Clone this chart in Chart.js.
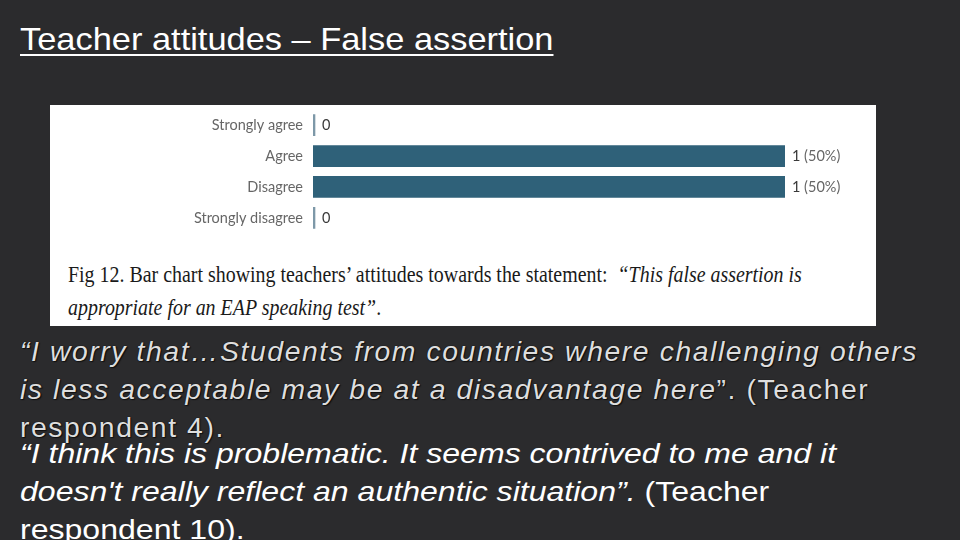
<!DOCTYPE html>
<html>
<head>
<meta charset="utf-8">
<script src="https://cdn.jsdelivr.net/npm/chart.js@4"></script>
<style>
  html, body { margin: 0; padding: 0; }
  body { width: 960px; height: 540px; background: #2b2b2d; position: relative; overflow: hidden;
         font-family: 'Liberation Sans', Arial, sans-serif; }
  #title { position: absolute; left: 20px; top: 23px; color: #fff; font-size: 32px; line-height: 1;
           white-space: nowrap; transform: scaleX(1.075); transform-origin: left top;
           text-decoration: underline; text-decoration-thickness: 2px; text-underline-offset: 4px; }
  #card { position: absolute; left: 50px; top: 105px; width: 826px; height: 221px; background: #fff; }
  #chartBox { position: absolute; left: 0; top: -4px; width: 826px; height: 141px; }
  #caption { position: absolute; left: 18px; top: 153px; width: 1100px; color: #1a1a1a;
             font-family: 'Liberation Serif', 'Times New Roman', serif; font-size: 24px; line-height: 33px;
             transform: scaleX(0.83); transform-origin: left top; white-space: nowrap; }
  .q { position: absolute; left: 20px; white-space: nowrap; transform-origin: left top; }
  #q1 { top: 333px; color: #dedede; font-size: 27px; line-height: 38px; letter-spacing: 1.5px;
        text-shadow: 0 0 1px #000, 1px 1px 1px #111; transform: scaleX(1.05); }
  #q2 { top: 435px; color: #fff; font-size: 28px; line-height: 38px; transform: scaleX(1.145); }
</style>
</head>
<body>
<div id="title">Teacher attitudes – False assertion</div>
<div id="card">
  <div id="chartBox"><canvas id="chart"></canvas></div>
  <div id="caption">Fig 12. Bar chart showing teachers’ attitudes towards the statement: &nbsp;<i>“This false assertion is</i><br><i>appropriate for an EAP speaking test”</i>.</div>
</div>
<div id="q1" class="q"><i>“I worry that…Students from countries where challenging others</i><br><i>is less acceptable may be at a disadvantage here</i>”. (Teacher<br>respondent 4).</div>
<div id="q2" class="q"><i>“I think this is problematic. It seems contrived to me and it</i><br><i>doesn't really reflect an authentic situation”.</i> (Teacher<br>respondent 10).</div>
<script>
// Responses to the statement (counts)
const categories = ['Strongly agree', 'Agree', 'Disagree', 'Strongly disagree'];
const counts = [0, 1, 1, 0];

const total = counts.reduce((a, b) => a + b, 0);
const LABEL_FONT = "Lato, 'Open Sans', sans-serif";

// value labels to the right of each bar: "0" or "1 (50%)"
const valueLabels = {
  id: 'valueLabels',
  afterDatasetsDraw(chart) {
    const ctx = chart.ctx;
    const meta = chart.getDatasetMeta(0);
    ctx.save();
    ctx.font = '14.5px ' + LABEL_FONT;
    ctx.textBaseline = 'middle';
    meta.data.forEach((bar, i) => {
      const v = counts[i];
      const x = bar.x + 7;
      ctx.fillStyle = '#3a3a3a';
      ctx.fillText(String(v), x, bar.y);
      if (v > 0) {
        const w = ctx.measureText(String(v) + ' ').width;
        ctx.fillStyle = '#666';
        ctx.fillText('(' + Math.round(v / total * 100) + '%)', x + w, bar.y);
      }
    });
    ctx.restore();
  }
};

new Chart(document.getElementById('chart'), {
  type: 'bar',
  data: {
    labels: categories,
    datasets: [{
      data: counts,
      backgroundColor: c => counts[c.dataIndex] === 0 ? '#7d98a8' : '#2f6179',
      barThickness: 21,
      minBarLength: 2,
    }]
  },
  options: {
    indexAxis: 'y',
    responsive: true,
    maintainAspectRatio: false,
    animation: false,
    layout: { padding: { top: 0, bottom: 0, left: 0, right: 91 } },
    plugins: { legend: { display: false }, tooltip: { enabled: false } },
    scales: {
      x: { display: false, min: 0, max: 1 },
      y: {
        grid: { display: false, drawTicks: true, tickLength: 10 },
        border: { display: false },
        afterFit(scale) { scale.width = 263; },
        ticks: { color: '#666', padding: 0, font: { family: LABEL_FONT, size: 14.5 } }
      }
    }
  },
  plugins: [valueLabels]
});
</script>
</body>
</html>
